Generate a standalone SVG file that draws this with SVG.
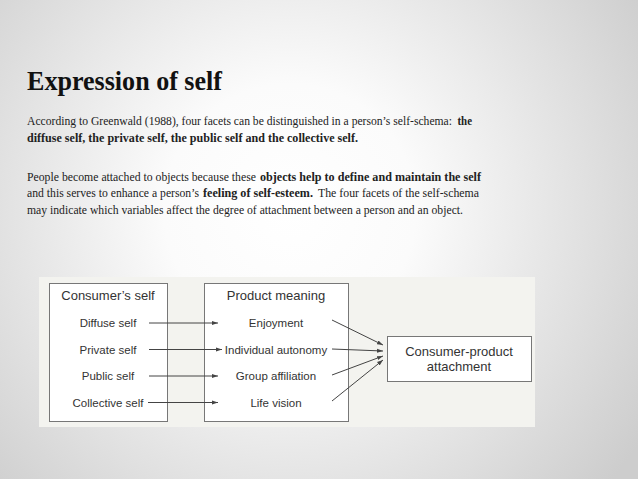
<svg xmlns="http://www.w3.org/2000/svg" width="638" height="479" viewBox="0 0 638 479">
<defs>
<radialGradient id="bg" cx="290" cy="210" r="420" gradientUnits="userSpaceOnUse">
<stop offset="0" stop-color="#ffffff"/>
<stop offset="0.3" stop-color="#fbfbfb"/>
<stop offset="1" stop-color="#cdcdcd"/>
</radialGradient>
<marker id="ah" viewBox="0 0 10 10" refX="10" refY="5" markerWidth="6" markerHeight="6" orient="auto" markerUnits="userSpaceOnUse">
<path d="M0,1.5 L10,5 L0,8.5 Z" fill="#444"/>
</marker>
<style>
.body{font-family:"Liberation Serif","Times New Roman",serif;font-size:12.5px;fill:#222}
.b{font-weight:bold}
.box{fill:#ffffff;stroke:#777;stroke-width:1}
.hd{font-family:"Liberation Sans",Arial,sans-serif;font-size:13px;fill:#333;text-anchor:middle}
.it{font-family:"Liberation Sans",Arial,sans-serif;font-size:11.5px;fill:#333;text-anchor:middle}
.cn{stroke:#444;stroke-width:1;fill:none;marker-end:url(#ah)}
</style>
</defs>
<rect width="638" height="479" fill="url(#bg)"/>
<text x="27" y="90" font-family="'Liberation Serif','Times New Roman',serif" font-size="28" font-weight="bold" fill="#111" textLength="195" lengthAdjust="spacingAndGlyphs">Expression of self</text>
<text class="body" x="27" y="125" font-size="11.5" textLength="425" lengthAdjust="spacingAndGlyphs">According to Greenwald (1988), four facets can be distinguished in a person’s self-schema:</text>
<text class="body b" x="457.5" y="125" font-size="12" textLength="14.5" lengthAdjust="spacingAndGlyphs">the</text>
<text class="body b" x="27" y="142" textLength="331" lengthAdjust="spacingAndGlyphs">diffuse self, the private self, the public self and the collective self.</text>
<text class="body" x="27" y="181" textLength="229" lengthAdjust="spacingAndGlyphs">People become attached to objects because these</text>
<text class="body b" x="260" y="181" textLength="221" lengthAdjust="spacingAndGlyphs">objects help to define and maintain the self</text>
<text class="body" x="27" y="197" textLength="172" lengthAdjust="spacingAndGlyphs">and this serves to enhance a person’s</text>
<text class="body b" x="203" y="197" textLength="110" lengthAdjust="spacingAndGlyphs">feeling of self-esteem.</text>
<text class="body" x="318" y="197" textLength="161" lengthAdjust="spacingAndGlyphs">The four facets of the self-schema</text>
<text class="body" x="27" y="214" textLength="436" lengthAdjust="spacingAndGlyphs">may indicate which variables affect the degree of attachment between a person and an object.</text>
<rect x="39" y="277" width="496" height="150" fill="#f3f3ef"/>
<g id="consumers-self">
<rect class="box" x="49.5" y="283.5" width="118" height="138"/>
<text class="hd" x="108" y="300">Consumer’s self</text>
<text class="it" x="108" y="327">Diffuse self</text>
<text class="it" x="108" y="354">Private self</text>
<text class="it" x="108" y="380">Public self</text>
<text class="it" x="108" y="407">Collective self</text>
</g>
<g id="product-meaning">
<rect class="box" x="204.5" y="283.5" width="144" height="138"/>
<text class="hd" x="276" y="300">Product meaning</text>
<text class="it" x="276" y="327">Enjoyment</text>
<text class="it" x="276" y="354">Individual autonomy</text>
<text class="it" x="276" y="380">Group affiliation</text>
<text class="it" x="276" y="407">Life vision</text>
</g>
<g id="attachment">
<rect class="box" x="387.5" y="336.5" width="144" height="45"/>
<text class="hd" x="459" y="356" font-size="13.5">Consumer-product</text>
<text class="hd" x="459" y="371" font-size="13.5">attachment</text>
</g>
<g id="connectors">
<line class="cn" x1="149" y1="323" x2="218" y2="323"/>
<line class="cn" x1="149" y1="349.5" x2="222" y2="349.5"/>
<line class="cn" x1="149" y1="376" x2="218" y2="376"/>
<line class="cn" x1="148" y1="402.5" x2="218" y2="402.5"/>
<line class="cn" x1="332" y1="320" x2="383" y2="345"/>
<line class="cn" x1="332" y1="349" x2="383" y2="351"/>
<line class="cn" x1="332" y1="375" x2="383" y2="356"/>
<line class="cn" x1="332" y1="401" x2="383" y2="360"/>
</g>
</svg>
